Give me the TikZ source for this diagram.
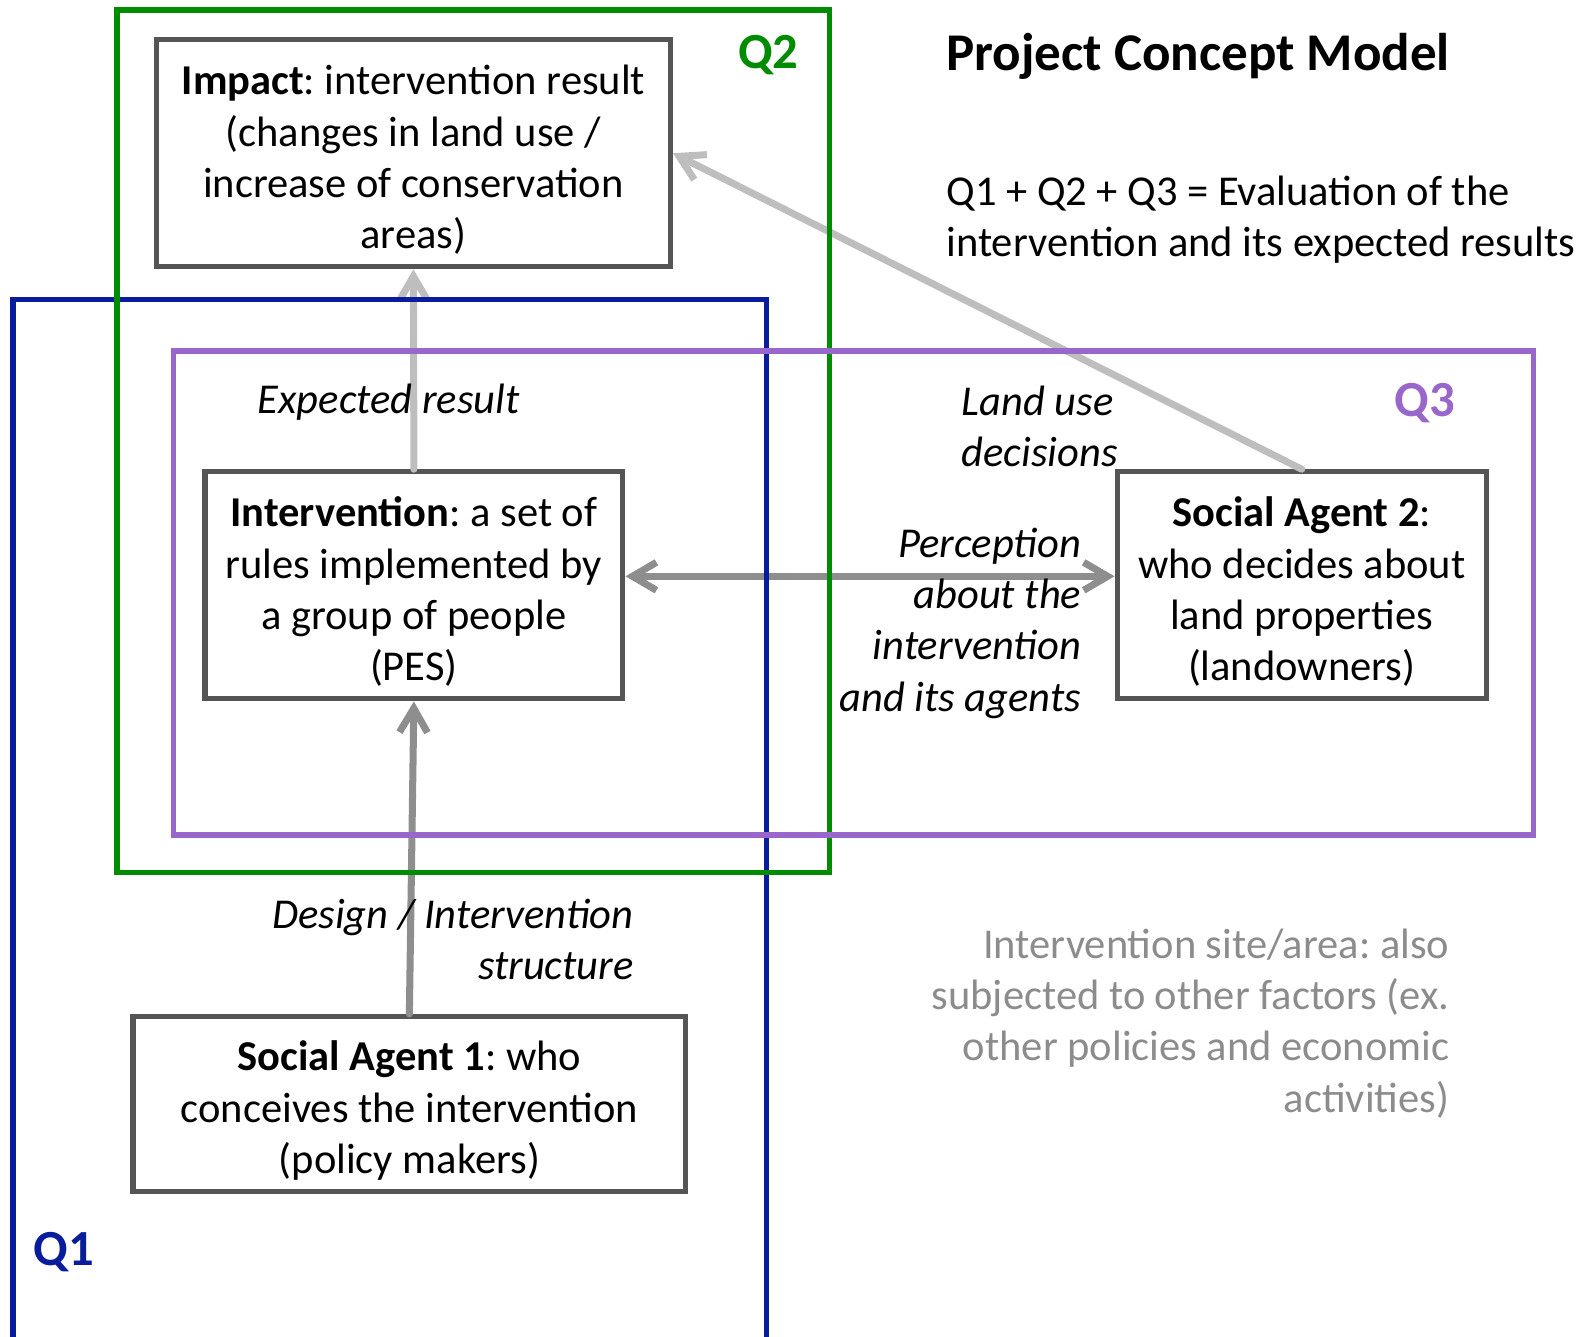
\documentclass[tikz,border=0pt]{standalone}
\usepackage{fontspec}
\setmainfont{Carlito}
\usetikzlibrary{arrows.meta}

\definecolor{qgreen}{RGB}{0,140,0}
\definecolor{qblue}{RGB}{8,28,156}
\definecolor{qpurple}{RGB}{153,102,204}
\definecolor{boxgray}{RGB}{85,85,85}
\definecolor{arrowlight}{RGB}{190,190,190}
\definecolor{arrowmid}{RGB}{142,142,142}
\definecolor{notegray}{RGB}{140,140,140}

\newcommand{\bodysize}{\fontsize{12.1pt}{14.6pt}\selectfont}
\newcommand{\bigsize}{\fontsize{14.4pt}{17pt}\selectfont}
\newcommand{\titlesize}{\fontsize{15.1pt}{18pt}\selectfont}
\newcommand{\toppad}{\rule{0pt}{12.2pt}}

\tikzstyle{box} = [draw=boxgray, line width=1.5pt, fill=white, align=center, inner sep=0pt]
\tikzstyle{lbl} = [font=\bodysize\itshape, inner sep=0pt]
\tikzstyle{qname} = [font=\bigsize\bfseries, inner sep=0pt]
\tikzstyle{frame} = [line width=1.5pt]
\tikzstyle{lightarrow} = [draw=arrowlight, line width=2pt, line cap=round, -{Straight Barb[length=2.4mm,width=2.8mm]}]
\tikzstyle{midarrow} = [draw=arrowmid, line width=2pt, line cap=round, -{Straight Barb[length=2.4mm,width=2.8mm]}]
\tikzstyle{every node}=[font=\bodysize]

\begin{document}
\frenchspacing
\begin{tikzpicture}[x=0.010083cm, y=-0.010083cm]
  \useasboundingbox (0,0) rectangle (1568,1326);

  % boxes
  \node[box, minimum width=5.14cm, minimum height=2.27cm] (impact) at (410,152)
    {\toppad\textbf{Impact}: intervention result\\(changes in land use /\\increase of conservation\\areas)};
  \node[box, minimum width=4.18cm, minimum height=2.27cm] (interv) at (410.5,580.5)
    {\toppad\textbf{Intervention}: a set of\\rules implemented by\\a group of people\\(PES)};
  \node[box, minimum width=3.69cm, minimum height=2.27cm] (agent2) at (1291,580.5)
    {\toppad\textbf{Social Agent 2}:\\who decides about\\land properties\\(landowners)};
  \node[box, minimum width=5.53cm, minimum height=1.75cm] (agent1) at (406,1095)
    {\toppad\textbf{Social Agent 1}: who\\conceives the intervention\\(policy makers)};

  % arrows
  \draw[lightarrow] (interv.north) -- (impact.south);
  \draw[lightarrow] (agent2.north) -- (impact.east);
  \draw[midarrow] (agent1.north) -- (interv.south);
  \draw[midarrow, {Straight Barb[length=2.4mm,width=2.8mm]}-{Straight Barb[length=2.4mm,width=2.8mm]}]
    ([yshift=0.09cm]interv.east) -- ([yshift=0.09cm]agent2.west);

  % question frames
  \draw[frame, qblue] (13,1340) -- (13,297) -- (760,297) -- (760,1340);
  \draw[frame, qgreen] (116,10) rectangle (823,865);
  \draw[frame, qpurple] (172,348) rectangle (1521,828);
  \node[qname, text=qgreen] (q2) at (762,55) {Q2};
  \node[qname, text=qpurple] (q3) at (1413,400) {Q3};
  \node[qname, text=qblue] (q1) at (63,1242) {Q1};

  % labels
  \node[lbl, anchor=west] (expected) at (255,399) {Expected result};
  \node[lbl, anchor=west, align=left] (landuse) at (953,423) {Land use\\decisions};
  \node[lbl, anchor=east, align=right] (percep) at (1073,618)
    {Perception\\about the\\intervention\\and its agents};
  \node[lbl, anchor=east, align=right] (design) at (629,932)
    {Design / Intervention\\structure};

  % title and notes
  \node[font=\titlesize\bfseries, anchor=west, inner sep=0pt] (title) at (938,56) {Project Concept Model};
  \node[anchor=west, align=left, inner sep=0pt] (evalnote) at (938,218)
    {Q1 + Q2 + Q3 = Evaluation of the\\intervention and its expected results};
  \node[anchor=east, align=right, inner sep=0pt, text=notegray] (sitenote) at (1438,1015)
    {Intervention site/area: also\\subjected to other factors (ex.\\other policies and economic\\activities)};
\end{tikzpicture}
\end{document}
